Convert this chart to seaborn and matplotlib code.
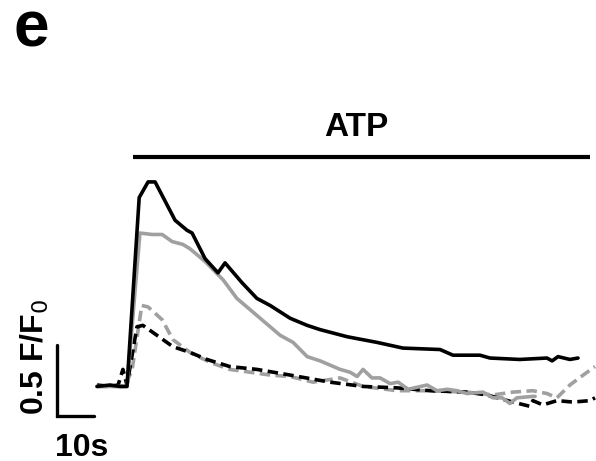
import matplotlib
matplotlib.use("Agg")
import matplotlib.pyplot as plt
import seaborn as sns
import numpy as np

# Ca2+ transients (F/F0) evoked by ATP, time in seconds
t_black = [0, 3.5, 6.2, 8.1, 11.4, 13.8, 15.7, 21.1, 24.3, 25.7, 29.2, 32.7, 34.6,
           39.2, 43.2, 46.8, 52.2, 56.8, 60.3, 67.6, 75.7, 82.7, 92.7, 96.2, 103.5,
           106.2, 114.3, 121.6, 123.0, 124.6, 127.8, 130.0]
f_black = [0.99, 1.00, 0.99, 0.99, 2.32, 2.43, 2.43, 2.16, 2.09, 2.07, 1.89, 1.79, 1.86,
           1.72, 1.61, 1.56, 1.47, 1.42, 1.39, 1.34, 1.30, 1.26, 1.25, 1.21, 1.21,
           1.19, 1.18, 1.19, 1.17, 1.20, 1.18, 1.19]

t_gray = [0, 3.5, 6.2, 8.1, 11.6, 14.9, 17.6, 20.3, 23.2, 25.1, 29.2, 34.1, 37.8, 41.4,
          46.8, 49.5, 53.0, 56.8, 60.3, 65.7, 68.4, 70.3, 71.9, 74.3, 76.5, 79.2, 81.4,
          84.1, 89.2, 91.9, 94.6, 97.3, 100.0, 104.3, 107.0, 109.5, 111.6, 113.5, 117.8,
          118.4]
f_gray = [0.99, 0.99, 0.99, 0.99, 2.07, 2.06, 2.06, 2.01, 1.99, 1.96, 1.87, 1.74, 1.61,
          1.53, 1.41, 1.35, 1.30, 1.20, 1.17, 1.11, 1.09, 1.06, 1.11, 1.05, 1.05, 1.01,
          1.02, 0.97, 1.00, 0.96, 0.97, 0.96, 0.94, 0.95, 0.91, 0.91, 0.87, 0.91, 0.92,
          0.92]

t_gray_dash = [0, 3.5, 7.6, 9.5, 12.1, 13.8, 17.6, 20.5, 25.1, 30.5, 35.9, 41.4, 46.8,
               52.2, 58.4, 65.7, 71.9, 81.1, 89.2, 100.0, 107.0, 112.4, 117.8, 121.6,
               124.3, 127.8, 131.4, 134.6]
f_gray_dash = [0.99, 0.99, 0.99, 1.11, 1.56, 1.55, 1.46, 1.32, 1.23, 1.16, 1.11, 1.09,
               1.07, 1.06, 1.02, 1.05, 0.99, 0.96, 0.96, 0.95, 0.93, 0.95, 0.96, 0.94,
               0.91, 1.00, 1.07, 1.13]

t_black_dash = [0, 3.5, 5.7, 7.0, 8.1, 10.8, 12.4, 16.2, 20.5, 25.1, 29.7, 35.9, 43.2,
                52.2, 63.0, 71.9, 81.1, 90.0, 100.0, 105.4, 112.4, 117.0, 117.8, 120.5,
                124.3, 128.6, 133.2, 134.6]
f_black_dash = [1.00, 0.99, 1.00, 1.11, 1.00, 1.41, 1.42, 1.35, 1.27, 1.23, 1.18, 1.13,
                1.11, 1.07, 1.02, 0.99, 0.98, 0.96, 0.95, 0.93, 0.88, 0.85, 0.89, 0.86,
                0.89, 0.88, 0.89, 0.91]

# ATP application window (s)
atp_on, atp_off = 9.7, 133.2
# scale bars: 10 s and 0.5 F/F0
sb_x, sb_y = 10.0, 0.5

sns.set_theme(style="white")
plt.rcParams["font.family"] = ["Liberation Sans", "DejaVu Sans"]
plt.rcParams["text.color"] = "black"

fig = plt.figure(figsize=(5.96, 4.61), dpi=100)
ax = fig.add_axes([0, 0, 1, 1])
ax.set_xlim(-26.22, 134.86)
ax.set_ylim(0.465, 3.711)
ax.axis("off")

gray = "#a0a0a0"
lw = 2.6
dash = (0, (2.9, 1.5))
sns.lineplot(x=t_gray_dash, y=f_gray_dash, ax=ax, color=gray, linewidth=lw,
             linestyle=dash)
sns.lineplot(x=t_black_dash, y=f_black_dash, ax=ax, color="black", linewidth=lw,
             linestyle=dash)
sns.lineplot(x=t_gray, y=f_gray, ax=ax, color=gray, linewidth=lw)
sns.lineplot(x=t_black, y=f_black, ax=ax, color="black", linewidth=lw)

# ATP bar and label
ax.plot([atp_on, atp_off], [2.606, 2.606], color="black", linewidth=3.0,
        solid_capstyle="butt")
ax.text(70.2, 2.81, "ATP", ha="center", va="center", fontsize=24, fontweight="bold",
        color="black")

# scale bars
x0, y0 = -10.8, 0.78
ax.plot([x0, x0, x0 + sb_x], [y0 + sb_y, y0, y0], color="black", linewidth=2.4,
        solid_joinstyle="miter")
ax.text(-16.8, 1.2, "0.5 F/F$_0$", rotation=90, ha="center", va="center",
        fontsize=23, fontweight="bold", color="black")
ax.text(-11.3, 0.56, "10s", ha="left", va="center", fontsize=23, fontweight="bold",
        color="black")

# panel letter
fig.text(0.022, 0.935, "e", ha="left", va="center", fontsize=46, fontweight="bold",
         color="black")

fig.savefig("out.png", dpi=100)
